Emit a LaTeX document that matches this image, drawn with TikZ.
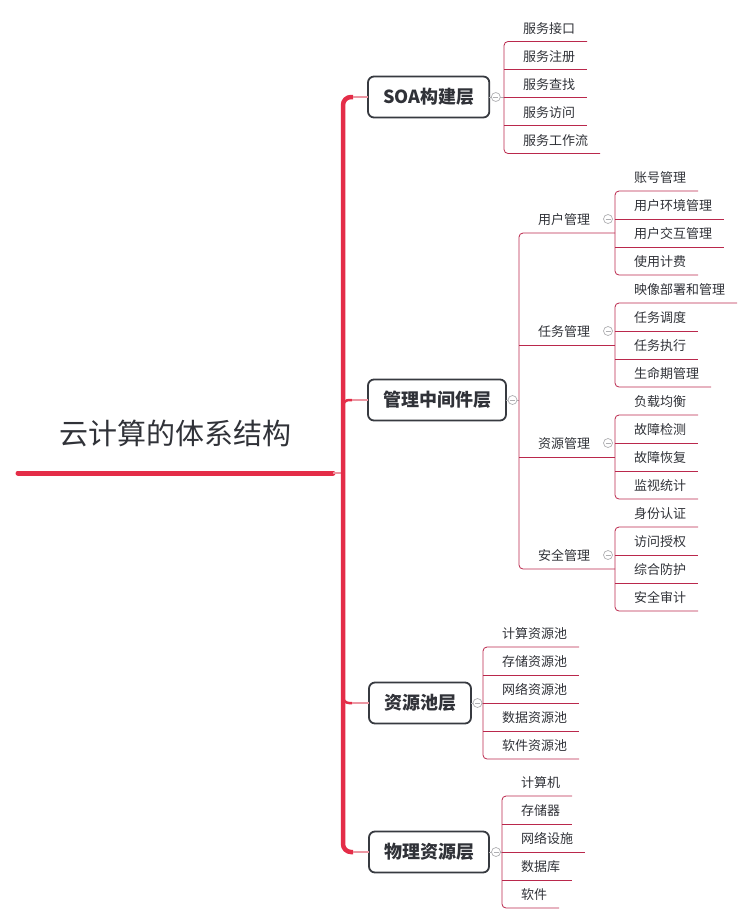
\documentclass[tikz,border=0pt]{standalone}
\usepackage{fontspec}
\setmainfont{Noto Sans CJK SC}
\usepackage{tikz}
\usetikzlibrary{calc,positioning}

\definecolor{trunkred}{RGB}{228,45,72}
\definecolor{stubpink}{RGB}{236,150,162}
\definecolor{twigred}{RGB}{186,40,76}
\definecolor{linkgray}{RGB}{175,175,178}
\definecolor{inkgray}{RGB}{48,50,56}
\definecolor{boxgray}{RGB}{55,58,64}

\tikzset{
	root/.style={minimum width=315pt, minimum height=80pt, inner sep=0pt, outer sep=0pt, font=\fontsize{29pt}{32pt}\selectfont, text=inkgray},
	topic/.style={draw=boxgray, line width=1.8pt, rounded corners=6pt, fill=white, inner xsep=15pt, inner ysep=0pt, minimum height=41pt, outer sep=0pt, anchor=west, font=\fontsize{18pt}{20pt}\selectfont\bfseries, text=inkgray},
	leaf/.style={inner xsep=12pt, inner ysep=0pt, outer sep=0pt, minimum height=28pt, text height=13.5pt, text depth=2.5pt, font=\fontsize{13pt}{15pt}\selectfont, text=inkgray},
	nextleaf/.style={below=0pt of #1.south west, anchor=north west},
	trunk/.style={draw=trunkred, line width=4.5pt},
	stub/.style={draw=stubpink, line width=1.6pt},
	twig/.style={draw=twigred, line width=0.8pt},
	link/.style={draw=linkgray, line width=0.8pt},
	fold/.style={circle, draw=linkgray, fill=white, line width=0.7pt, minimum size=9pt, inner sep=0pt,
		path picture={\draw[linkgray, line width=0.7pt] ([xshift=-2.5pt]path picture bounding box.center) -- ([xshift=2.5pt]path picture bounding box.center);}}
}

\begin{document}
\begin{tikzpicture}[x=1pt, y=-1pt]
	\useasboundingbox (0,0) rectangle (752,924);

	% root
	\node[root] (root) at (175.5,433) {云计算的体系结构};
	\coordinate (bar) at (343,473);

	% layers
	\node[topic] (soa) at (368,97) {SOA构建层};
	\node[topic] (mw) at (368,400) {管理中间件层};
	\node[topic] (pool) at (369,703) {资源池层};
	\node[topic] (phys) at (369,852) {物理资源层};

	% brackets
	\coordinate (soaB) at (504,0);
	\coordinate (mwB) at (519,0);
	\coordinate (subB) at (615,0);
	\coordinate (poolB) at (483,0);
	\coordinate (physB) at (502,0);

	% SOA
	\node[leaf, anchor=south west] (s1) at (511,41.5) {服务接口};
	\node[leaf, nextleaf=s1] (s2) {服务注册};
	\node[leaf, nextleaf=s2] (s3) {服务查找};
	\node[leaf, nextleaf=s3] (s4) {服务访问};
	\node[leaf, nextleaf=s4] (s5) {服务工作流};

	% middleware
	\node[leaf, anchor=south west] (um) at (526,233) {用户管理};
	\node[leaf, anchor=south west] (tm) at (526,345) {任务管理};
	\node[leaf, anchor=south west] (rm) at (526,457) {资源管理};
	\node[leaf, anchor=south west] (sm) at (526,569) {安全管理};

	\node[leaf, anchor=south west] (a1) at (622,191) {账号管理};
	\node[leaf, nextleaf=a1] (a2) {用户环境管理};
	\node[leaf, nextleaf=a2] (a3) {用户交互管理};
	\node[leaf, nextleaf=a3] (a4) {使用计费};
	\node[leaf, nextleaf=a4] (b1) {映像部署和管理};
	\node[leaf, nextleaf=b1] (b2) {任务调度};
	\node[leaf, nextleaf=b2] (b3) {任务执行};
	\node[leaf, nextleaf=b3] (b4) {生命期管理};
	\node[leaf, nextleaf=b4] (c1) {负载均衡};
	\node[leaf, nextleaf=c1] (c2) {故障检测};
	\node[leaf, nextleaf=c2] (c3) {故障恢复};
	\node[leaf, nextleaf=c3] (c4) {监视统计};
	\node[leaf, nextleaf=c4] (d1) {身份认证};
	\node[leaf, nextleaf=d1] (d2) {访问授权};
	\node[leaf, nextleaf=d2] (d3) {综合防护};
	\node[leaf, nextleaf=d3] (d4) {安全审计};

	% pools
	\node[leaf, anchor=south west] (p1) at (490,647) {计算资源池};
	\node[leaf, nextleaf=p1] (p2) {存储资源池};
	\node[leaf, nextleaf=p2] (p3) {网络资源池};
	\node[leaf, nextleaf=p3] (p4) {数据资源池};
	\node[leaf, nextleaf=p4] (p5) {软件资源池};

	% physical
	\node[leaf, anchor=south west] (h1) at (509,796) {计算机};
	\node[leaf, nextleaf=h1] (h2) {存储器};
	\node[leaf, nextleaf=h2] (h3) {网络设施};
	\node[leaf, nextleaf=h3] (h4) {数据库};
	\node[leaf, nextleaf=h4] (h5) {软件};

	% trunk
	\draw[trunk, line width=5pt, line cap=round] (root.south west) -- (root.south east);
	\draw[stub] (root.south east) -- (bar);
	\draw[trunk, rounded corners=8pt] ($(bar |- soa.west)+(10,0)$) -- (bar |- soa.west) -- (bar |- phys.west) -- ($(bar |- phys.west)+(10,0)$);
	\draw[trunk, line width=2.5pt, rounded corners=6pt] ($(bar |- mw.west)+(0,10)$) -- (bar |- mw.west) -- ($(bar |- mw.west)+(9,0)$);
	\draw[trunk, line width=2.5pt, rounded corners=6pt] ($(bar |- pool.west)+(0,-10)$) -- (bar |- pool.west) -- ($(bar |- pool.west)+(9,0)$);
	\draw[stub] ($(bar |- soa.west)+(10,0)$) -- (soa.west);
	\draw[stub] ($(bar |- mw.west)+(9,0)$) -- (mw.west);
	\draw[stub] ($(bar |- pool.west)+(9,0)$) -- (pool.west);
	\draw[stub] ($(bar |- phys.west)+(10,0)$) -- (phys.west);

	% SOA lines
	\draw[link] (soa.east) -- (soaB |- soa.east);
	\draw[twig, rounded corners=4pt] (s1.south east) -- (soaB |- s1.south) -- (soaB |- s5.south) -- (s5.south east);
	\draw[twig] (soaB |- s2.south) -- (s2.south east) (soaB |- s3.south) -- (s3.south east) (soaB |- s4.south) -- (s4.south east);

	% middleware lines
	\draw[link] (mw.east) -- (mwB |- mw.east);
	\draw[twig, rounded corners=4pt] (subB |- um.south) -- (mwB |- um.south) -- (mwB |- sm.south) -- (subB |- sm.south);
	\draw[twig] (mwB |- tm.south) -- (subB |- tm.south) (mwB |- rm.south) -- (subB |- rm.south);

	\draw[twig, rounded corners=4pt] (a1.south east) -- (subB |- a1.south) -- (subB |- a4.south) -- (a4.south east);
	\draw[twig] (subB |- a2.south) -- (a2.south east) (subB |- a3.south) -- (a3.south east);
	\draw[twig, rounded corners=4pt] (b1.south east) -- (subB |- b1.south) -- (subB |- b4.south) -- (b4.south east);
	\draw[twig] (subB |- b2.south) -- (b2.south east) (subB |- b3.south) -- (b3.south east);
	\draw[twig, rounded corners=4pt] (c1.south east) -- (subB |- c1.south) -- (subB |- c4.south) -- (c4.south east);
	\draw[twig] (subB |- c2.south) -- (c2.south east) (subB |- c3.south) -- (c3.south east);
	\draw[twig, rounded corners=4pt] (d1.south east) -- (subB |- d1.south) -- (subB |- d4.south) -- (d4.south east);
	\draw[twig] (subB |- d2.south) -- (d2.south east) (subB |- d3.south) -- (d3.south east);

	% pool lines
	\draw[link] (pool.east) -- (poolB |- pool.east);
	\draw[twig, rounded corners=4pt] (p1.south east) -- (poolB |- p1.south) -- (poolB |- p5.south) -- (p5.south east);
	\draw[twig] (poolB |- p2.south) -- (p2.south east) (poolB |- p3.south) -- (p3.south east) (poolB |- p4.south) -- (p4.south east);

	% physical lines
	\draw[link] (phys.east) -- (physB |- phys.east);
	\draw[twig, rounded corners=4pt] (h1.south east) -- (physB |- h1.south) -- (physB |- h5.south) -- (h5.south east);
	\draw[twig] (physB |- h2.south) -- (h2.south east) (physB |- h3.south) -- (h3.south east) (physB |- h4.south) -- (h4.south east);

	% fold marks
	\node[fold] (soaF) at ($(soa.east)+(6.5,0)$) {};
	\node[fold] (mwF) at ($(mw.east)+(6.5,0)$) {};
	\node[fold] (poolF) at ($(pool.east)+(6.5,0)$) {};
	\node[fold] (physF) at ($(phys.east)+(7,0)$) {};
	\node[fold] (umF) at ($(um.east)+(6,0)$) {};
	\node[fold] (tmF) at ($(tm.east)+(6,0)$) {};
	\node[fold] (rmF) at ($(rm.east)+(6,0)$) {};
	\node[fold] (smF) at ($(sm.east)+(6,0)$) {};
\end{tikzpicture}
\end{document}
